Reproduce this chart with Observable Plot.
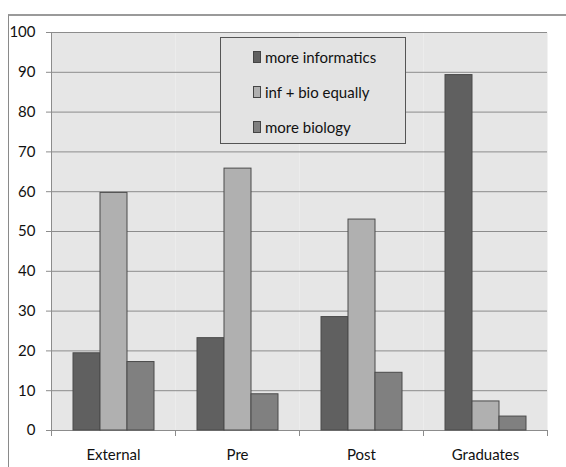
<!DOCTYPE html>
<html><head>
<meta charset="utf-8">
<script src="https://cdn.jsdelivr.net/npm/d3@7"></script>
<script src="https://cdn.jsdelivr.net/npm/@observablehq/plot@0.6"></script>
<style>
body{margin:0;background:#fff;}
#wrap{position:relative;width:566px;height:467px;overflow:hidden;font-family:Lato,"Open Sans",sans-serif;}
#frame{position:absolute;left:8px;top:14px;width:700px;height:600px;border-left:1px solid #8a8a8a;border-top:2px solid #9a9a9a;box-sizing:border-box;}
#wrap svg{position:absolute;left:0;top:0;}
#legend{position:absolute;left:220px;top:37px;width:186px;height:107px;box-sizing:border-box;border:1px solid #555;background:#e3e3e3;}
.item{position:absolute;left:32px;height:20px;display:flex;align-items:center;font-size:15px;color:#111;white-space:nowrap;}
.sw{width:8px;height:12px;border:1px solid #444;margin-right:4px;box-sizing:border-box;}
</style></head><body>
<div id="wrap"><div id="frame"></div></div>
<script>
const categories = ["External", "Pre", "Post", "Graduates"];
const seriesNames = ["more informatics", "inf + bio equally", "more biology"];
const moreInformatics = [19.4, 23.2, 28.5, 89.3];
const infBioEqually = [59.7, 65.8, 53.0, 7.3];
const moreBiology = [17.2, 9.1, 14.5, 3.5];
const seriesColors = ["#606060", "#b0b0b0", "#808080"];
const yTicks = [0, 10, 20, 30, 40, 50, 60, 70, 80, 90, 100];

const seriesValues = [moreInformatics, infBioEqually, moreBiology];
const data = categories.flatMap((c, i) =>
  seriesNames.map((s, j) => ({category: c, series: s, value: seriesValues[j][i]})));

const plot = Plot.plot({
  width: 566, height: 467,
  marginLeft: 49, marginRight: 18, marginTop: 32, marginBottom: 37,
  style: {fontFamily: "Lato, 'Open Sans', sans-serif", fontSize: "15px", color: "#111", background: "transparent"},
  fx: {domain: categories, padding: 0, label: null},
  x: {domain: seriesNames, paddingInner: 0, paddingOuter: 0.756, axis: null},
  y: {domain: [0, 100], label: null},
  color: {domain: seriesNames, range: seriesColors},
  marks: [
    Plot.frame({fill: "#e6e6e6", stroke: null}),
    Plot.gridY(yTicks, {stroke: "#8c8c8c", strokeOpacity: 1, strokeWidth: 1}),
    Plot.barY(data, {fx: "category", x: "series", y: "value", fill: "series", stroke: "#4a4a4a", strokeWidth: 1}),
    Plot.axisY(yTicks, {tickSize: 5, tickPadding: 11, stroke: "#8c8c8c", label: null, fontSize: 15}),
    Plot.axisFx({anchor: "bottom", tickSize: 0, tickPadding: 19, label: null, fontSize: 15})
  ]
});
document.getElementById("wrap").appendChild(plot);

// facet boundary ticks and left axis line, placed with Plot's own scales
const fx = plot.scale("fx");
const y = plot.scale("y");
const y0 = y.apply(0), y100 = y.apply(100);
const edges = categories.map(c => fx.apply(c)).concat([fx.apply(categories[categories.length - 1]) + fx.bandwidth]);
const svg = d3.select(plot);
const g = svg.append("g").attr("stroke", "#8c8c8c").attr("stroke-width", 1);
g.selectAll("line.t").data(edges).join("line")
  .attr("x1", d => Math.round(d) + 0.5).attr("x2", d => Math.round(d) + 0.5)
  .attr("y1", y0).attr("y2", y0 + 6);
g.append("line").attr("x1", Math.round(edges[0]) + 0.5).attr("x2", Math.round(edges[0]) + 0.5)
  .attr("y1", y100).attr("y2", y0);

// legend box inside plot area
const legend = d3.select("#wrap").append("div").attr("id", "legend");
seriesNames.forEach((s, j) => {
  const it = legend.append("div").attr("class", "item").style("top", (9 + j * 35) + "px");
  it.append("div").attr("class", "sw").style("background", seriesColors[j]);
  it.append("span").text(s);
});
</script>
</body></html>
